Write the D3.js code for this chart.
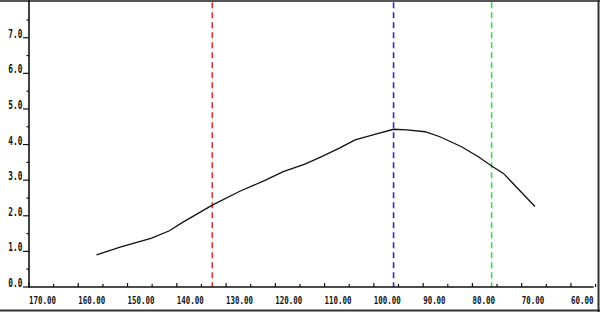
<!DOCTYPE html>
<html><head><meta charset="utf-8">
<script src="https://cdn.jsdelivr.net/npm/d3@7/dist/d3.min.js"></script>
<style>body{margin:0;background:#fff;}svg{display:block;}</style>
</head><body>
<script>
const curveX = [156.3,151.5,145.1,141.5,139,132.8,127.2,122,118.4,114,110.6,107,103.8,100,96,93.3,89.6,86.6,82.2,78.8,76.1,73.7,67.3];
const curveY = [0.90,1.12,1.37,1.58,1.80,2.30,2.69,3.00,3.24,3.45,3.66,3.90,4.13,4.28,4.43,4.41,4.36,4.22,3.94,3.66,3.40,3.19,2.26];
const markerX = [132.8, 96.0, 76.1];
const markerColors = ["#e63030", "#2b2bcc", "#3ddc3d"];
const xTickValues = [170,160,150,140,130,120,110,100,90,80,70,60];
const xMinorValues = [165,155,145,135,125,115,105,95,85,75,65,55];
const yTickValues = [0,1,2,3,4,5,6,7];
const yMinorValues = [0.5,1.5,2.5,3.5,4.5,5.5,6.5,7.5];

const W = 600, H = 312;
const svg = d3.select("body").append("svg").attr("width", W).attr("height", H);
const x = d3.scaleLinear().domain([170, 55.4]).range([29, 593.6]);
const y = d3.scaleLinear().domain([0, 8.06]).range([287, 0]);
const font = "'DejaVu Sans Mono', monospace";

// frame
svg.append("line").attr("x1",0).attr("x2",W).attr("y1",1).attr("y2",1).attr("stroke","#555").attr("stroke-width",2);
svg.append("line").attr("x1",598.5).attr("x2",598.5).attr("y1",0).attr("y2",H).attr("stroke","#333").attr("stroke-width",2);
svg.append("line").attr("x1",0).attr("x2",W).attr("y1",310.5).attr("y2",310.5).attr("stroke","#333").attr("stroke-width",2);

// marker lines
markerX.forEach((v,i)=>{
  svg.append("line").attr("x1",x(v)).attr("x2",x(v)).attr("y1",y(8.0)).attr("y2",y(0))
    .attr("stroke",markerColors[i]).attr("stroke-width",1.6).attr("stroke-dasharray","6,4");
});

// curve
const pts = curveX.map((v,i)=>[v,curveY[i]]);
svg.append("path").attr("d", d3.line().x(d=>x(d[0])).y(d=>y(d[1]))(pts))
  .attr("fill","none").attr("stroke","#111").attr("stroke-width",1.3);

// axes lines
svg.append("line").attr("x1",x.range()[0]).attr("x2",x.range()[0]).attr("y1",0).attr("y2",y(0)+0.75).attr("stroke","#111").attr("stroke-width",1.6);
svg.append("line").attr("x1",x.range()[0]).attr("x2",x.range()[1]).attr("y1",y(0)).attr("y2",y(0)).attr("stroke","#111").attr("stroke-width",1.6);

// y ticks
yTickValues.forEach(v=>{
  svg.append("line").attr("x1",23).attr("x2",29).attr("y1",y(v)).attr("y2",y(v)).attr("stroke","#111").attr("stroke-width",1.2);
  svg.append("text").attr("transform",`translate(22.5,${y(v)}) scale(0.68,1)`).attr("text-anchor","end")
    .attr("font-family",font).attr("font-weight","bold").attr("font-size",11.5).attr("fill","#111")
    .text(v.toFixed(1));
});
yMinorValues.forEach(v=>{
  svg.append("line").attr("x1",26.5).attr("x2",29).attr("y1",y(v)).attr("y2",y(v)).attr("stroke","#111").attr("stroke-width",1.2);
});

// x ticks
xTickValues.forEach(v=>{
  svg.append("line").attr("x1",x(v)).attr("x2",x(v)).attr("y1",y(0)).attr("y2",y(0)-4).attr("stroke","#111").attr("stroke-width",1.2);
  svg.append("text").attr("transform",`translate(${x(v)},304) scale(0.68,1)`).attr("text-anchor","start")
    .attr("font-family",font).attr("font-weight","bold").attr("font-size",11).attr("fill","#111")
    .text(v.toFixed(2));
});
xMinorValues.forEach(v=>{
  svg.append("line").attr("x1",x(v)).attr("x2",x(v)).attr("y1",y(0)).attr("y2",y(0)-3).attr("stroke","#111").attr("stroke-width",1.2);
});
</script>
</body></html>
